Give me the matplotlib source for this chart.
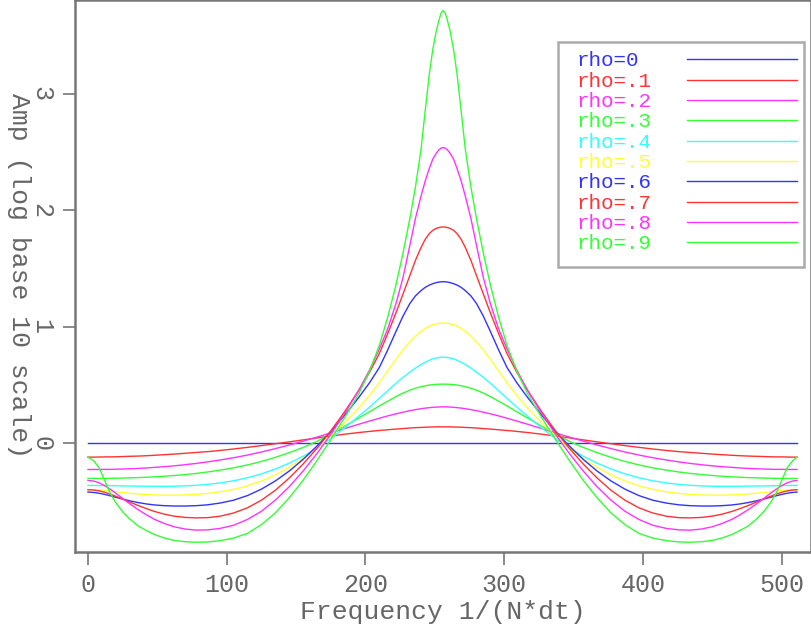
import matplotlib
matplotlib.use("Agg")
import matplotlib.pyplot as plt
from matplotlib.lines import Line2D
from matplotlib.patches import Rectangle

freq = [0, 4, 8, 12, 16, 20, 25, 30, 36, 42, 48, 55, 62, 70, 78, 86, 95, 105, 115, 125, 135, 145, 155, 165,
        175, 185, 195, 203, 210, 216, 222, 227, 232, 236, 240, 243, 246, 248.5, 251, 253, 254.5, 256,
        257.5, 259, 261, 263.5, 266, 269, 272, 276, 280, 285, 290, 296, 302, 309, 317, 327, 337, 347, 357,
        367, 377, 387, 397, 407, 417, 426, 434, 442, 450, 457, 464, 470, 476, 482, 487, 492, 496, 500, 504, 508, 511]

amp_rho0 = [0.0] * 83
amp_rho1 = [-0.120, -0.120, -0.119, -0.118, -0.118, -0.117, -0.115, -0.113, -0.111, -0.108, -0.104, -0.099, -0.094, -0.087,
            -0.080, -0.073, -0.063, -0.050, -0.036, -0.021, -0.005, 0.011, 0.028, 0.045, 0.062, 0.077, 0.091, 0.101, 0.109,
            0.115, 0.121, 0.125, 0.130, 0.133, 0.135, 0.137, 0.138, 0.139, 0.140, 0.140, 0.140, 0.140,
            0.140, 0.140, 0.140, 0.139, 0.138, 0.137, 0.135, 0.133, 0.130, 0.125, 0.121, 0.115, 0.109, 0.101, 0.091, 0.077,
            0.062, 0.045, 0.028, 0.011, -0.005, -0.021, -0.036, -0.050, -0.063, -0.073, -0.080, -0.087, -0.094, -0.099,
            -0.104, -0.108, -0.111, -0.113, -0.115, -0.117, -0.118, -0.118, -0.119, -0.120, -0.120]
amp_rho2 = [-0.226, -0.226, -0.226, -0.225, -0.225, -0.224, -0.222, -0.220, -0.217, -0.213, -0.208, -0.202, -0.195, -0.185,
            -0.174, -0.161, -0.145, -0.125, -0.102, -0.076, -0.047, -0.016, 0.017, 0.052, 0.088, 0.125, 0.162, 0.190, 0.214,
            0.234, 0.252, 0.266, 0.279, 0.288, 0.296, 0.301, 0.305, 0.308, 0.310, 0.311, 0.312, 0.312,
            0.312, 0.311, 0.310, 0.308, 0.305, 0.301, 0.296, 0.288, 0.279, 0.266, 0.252, 0.234, 0.214, 0.190, 0.162, 0.125,
            0.088, 0.052, 0.017, -0.016, -0.047, -0.076, -0.102, -0.125, -0.145, -0.161, -0.174, -0.185, -0.195, -0.202,
            -0.208, -0.213, -0.217, -0.220, -0.222, -0.224, -0.225, -0.225, -0.226, -0.226, -0.226]
amp_rho3 = [-0.303, -0.303, -0.303, -0.303, -0.302, -0.301, -0.300, -0.298, -0.296, -0.293, -0.289, -0.284, -0.278, -0.270,
            -0.260, -0.248, -0.232, -0.212, -0.187, -0.157, -0.122, -0.082, -0.037, 0.015, 0.080, 0.145, 0.215, 0.270, 0.320,
            0.360, 0.400, 0.430, 0.455, 0.472, 0.485, 0.493, 0.499, 0.503, 0.505, 0.506, 0.507, 0.507,
            0.507, 0.506, 0.505, 0.503, 0.499, 0.493, 0.485, 0.472, 0.455, 0.430, 0.400, 0.360, 0.320, 0.270, 0.215, 0.145,
            0.080, 0.015, -0.037, -0.082, -0.122, -0.157, -0.187, -0.212, -0.232, -0.248, -0.260, -0.270, -0.278, -0.284,
            -0.289, -0.293, -0.296, -0.298, -0.300, -0.301, -0.302, -0.303, -0.303, -0.303, -0.303]
amp_rho4 = [-0.363, -0.363, -0.364, -0.364, -0.365, -0.366, -0.367, -0.368, -0.369, -0.370, -0.371, -0.371, -0.370, -0.367,
            -0.362, -0.354, -0.342, -0.323, -0.297, -0.264, -0.222, -0.172, -0.113, -0.045, 0.040, 0.130, 0.230, 0.310, 0.385,
            0.450, 0.515, 0.565, 0.610, 0.645, 0.675, 0.695, 0.712, 0.724, 0.732, 0.736, 0.738, 0.739,
            0.738, 0.736, 0.732, 0.724, 0.712, 0.695, 0.675, 0.645, 0.610, 0.565, 0.515, 0.450, 0.385, 0.310, 0.230, 0.130,
            0.040, -0.045, -0.113, -0.172, -0.222, -0.264, -0.297, -0.323, -0.342, -0.354, -0.362, -0.367, -0.370, -0.371,
            -0.371, -0.370, -0.369, -0.368, -0.367, -0.366, -0.365, -0.364, -0.364, -0.363, -0.363]
amp_rho5 = [-0.400, -0.401, -0.404, -0.408, -0.413, -0.418, -0.424, -0.430, -0.436, -0.441, -0.445, -0.447, -0.447, -0.445,
            -0.440, -0.432, -0.418, -0.397, -0.366, -0.325, -0.272, -0.208, -0.132, -0.045, 0.060, 0.175, 0.300, 0.410, 0.520,
            0.620, 0.720, 0.800, 0.870, 0.920, 0.960, 0.985, 1.005, 1.017, 1.025, 1.029, 1.031, 1.032,
            1.031, 1.029, 1.025, 1.017, 1.005, 0.985, 0.960, 0.920, 0.870, 0.800, 0.720, 0.620, 0.520, 0.410, 0.300, 0.175,
            0.060, -0.045, -0.132, -0.208, -0.272, -0.325, -0.366, -0.397, -0.418, -0.432, -0.440, -0.445, -0.447, -0.447,
            -0.445, -0.441, -0.436, -0.430, -0.424, -0.418, -0.413, -0.408, -0.404, -0.401, -0.400]
amp_rho6 = [-0.420, -0.423, -0.430, -0.440, -0.452, -0.465, -0.480, -0.495, -0.510, -0.522, -0.531, -0.537, -0.540, -0.540,
            -0.537, -0.530, -0.515, -0.490, -0.450, -0.395, -0.325, -0.240, -0.140, -0.025, 0.100, 0.240, 0.390, 0.520, 0.650,
            0.800, 0.960, 1.090, 1.200, 1.265, 1.310, 1.338, 1.358, 1.370, 1.379, 1.384, 1.386, 1.387,
            1.386, 1.384, 1.379, 1.370, 1.358, 1.338, 1.310, 1.265, 1.200, 1.090, 0.960, 0.800, 0.650, 0.520, 0.390, 0.240,
            0.100, -0.025, -0.140, -0.240, -0.325, -0.395, -0.450, -0.490, -0.515, -0.530, -0.537, -0.540, -0.540, -0.537,
            -0.531, -0.522, -0.510, -0.495, -0.480, -0.465, -0.452, -0.440, -0.430, -0.423, -0.420]
amp_rho7 = [-0.400, -0.402, -0.410, -0.422, -0.438, -0.456, -0.480, -0.505, -0.535, -0.562, -0.587, -0.610, -0.627, -0.638,
            -0.642, -0.640, -0.628, -0.600, -0.555, -0.490, -0.405, -0.300, -0.180, -0.045, 0.105, 0.270, 0.450, 0.610, 0.770,
            0.940, 1.120, 1.280, 1.440, 1.570, 1.680, 1.750, 1.800, 1.828, 1.845, 1.852, 1.856, 1.857,
            1.856, 1.852, 1.845, 1.828, 1.800, 1.750, 1.680, 1.570, 1.440, 1.280, 1.120, 0.940, 0.770, 0.610, 0.450, 0.270,
            0.105, -0.045, -0.180, -0.300, -0.405, -0.490, -0.555, -0.600, -0.628, -0.640, -0.642, -0.638, -0.627, -0.610,
            -0.587, -0.562, -0.535, -0.505, -0.480, -0.456, -0.438, -0.422, -0.410, -0.402, -0.400]
amp_rho8 = [-0.320, -0.325, -0.340, -0.365, -0.395, -0.430, -0.475, -0.520, -0.570, -0.615, -0.655, -0.690, -0.718, -0.738,
            -0.747, -0.745, -0.733, -0.705, -0.655, -0.585, -0.490, -0.375, -0.240, -0.090, 0.075, 0.255, 0.450, 0.630, 0.810,
            0.980, 1.200, 1.420, 1.700, 1.930, 2.120, 2.250, 2.360, 2.440, 2.490, 2.520, 2.535, 2.539,
            2.535, 2.520, 2.490, 2.440, 2.360, 2.250, 2.120, 1.930, 1.700, 1.420, 1.200, 0.980, 0.810, 0.630, 0.450, 0.255,
            0.075, -0.090, -0.240, -0.375, -0.490, -0.585, -0.655, -0.705, -0.733, -0.745, -0.747, -0.738, -0.718, -0.690,
            -0.655, -0.615, -0.570, -0.520, -0.475, -0.430, -0.395, -0.365, -0.340, -0.325, -0.320]
amp_rho9 = [-0.120, -0.150, -0.210, -0.320, -0.430, -0.510, -0.590, -0.650, -0.710, -0.750, -0.785, -0.815, -0.835, -0.847,
            -0.851, -0.849, -0.838, -0.815, -0.775, -0.700, -0.600, -0.470, -0.320, -0.150, 0.030, 0.220, 0.420, 0.620, 0.840,
            1.080, 1.360, 1.630, 1.930, 2.200, 2.520, 2.850, 3.170, 3.380, 3.540, 3.635, 3.695, 3.717,
            3.695, 3.635, 3.540, 3.380, 3.170, 2.850, 2.520, 2.200, 1.930, 1.630, 1.360, 1.080, 0.840, 0.620, 0.420, 0.220,
            0.030, -0.150, -0.320, -0.470, -0.600, -0.700, -0.775, -0.815, -0.838, -0.849, -0.851, -0.847, -0.835, -0.815,
            -0.785, -0.750, -0.710, -0.650, -0.590, -0.510, -0.430, -0.320, -0.210, -0.150, -0.120]

labels = ["rho=0", "rho=.1", "rho=.2", "rho=.3", "rho=.4", "rho=.5", "rho=.6", "rho=.7", "rho=.8", "rho=.9"]
series = [amp_rho0, amp_rho1, amp_rho2, amp_rho3, amp_rho4, amp_rho5, amp_rho6, amp_rho7, amp_rho8, amp_rho9]
colors = ["#3333ff", "#ff3333", "#ff33ff", "#33ff33", "#33ffff", "#ffff33",
          "#3333ff", "#ff3333", "#ff33ff", "#33ff33"]

xticks = [0, 100, 200, 300, 400, 500]
yticks = [0, 1, 2, 3]

FONT = "Liberation Mono"
TXT = "#666666"
W, H = 811, 624

fig = plt.figure(figsize=(W / 100, H / 100), dpi=100)
ax = fig.add_axes([74.5 / W, (H - 552) / H, (W - 74.5) / W, 552 / H])

for ys, c in zip(series, colors):
    ax.plot(freq, ys, color=c, lw=1.0)

ax.set_xlim(-9.7, 521.1)
ax.set_ylim(-0.935, 3.807)
ax.set_xticks(xticks)
ax.set_yticks(yticks)
ax.set_xticklabels([str(t) for t in xticks], fontfamily=FONT, fontsize=18, color=TXT)
ax.set_yticklabels([str(t) for t in yticks], fontfamily=FONT, fontsize=18, color=TXT,
                   rotation=-90, va="center")
ax.tick_params(axis="both", direction="out", length=9, width=1.2, color="#777777")
ax.tick_params(axis="y", pad=6)
ax.tick_params(axis="x", pad=6)
for s in ax.spines.values():
    s.set_color("#777777")
    s.set_linewidth(1.8)

ax.set_xlabel("Frequency 1/(N*dt)", fontfamily=FONT, fontsize=19, color=TXT, labelpad=2)
ax.set_ylabel("Amp (log base 10 scale)", fontfamily=FONT, fontsize=19, color=TXT,
              rotation=-90, va="center", labelpad=8)

def fx(px):
    return px / W

def fy(py):
    return 1 - py / H

fig.patches.append(Rectangle((fx(557.7), fy(267)), fx(803.7) - fx(557.7), fy(42.3) - fy(267),
                             transform=fig.transFigure, fill=False, edgecolor="#aaaaaa", lw=1.8))
for i, (lab, c) in enumerate(zip(labels, colors)):
    yc = 60.7 + i * 20.33
    fig.text(fx(576.7), fy(yc), lab, color=c, fontfamily=FONT, fontsize=15, va="center", ha="left")
    fig.lines.append(Line2D([fx(687.3), fx(796.7)], [fy(yc - 1.3), fy(yc - 1.3)],
                            transform=fig.transFigure, color=c, lw=1.0))

fig.savefig("out.png", dpi=100)
